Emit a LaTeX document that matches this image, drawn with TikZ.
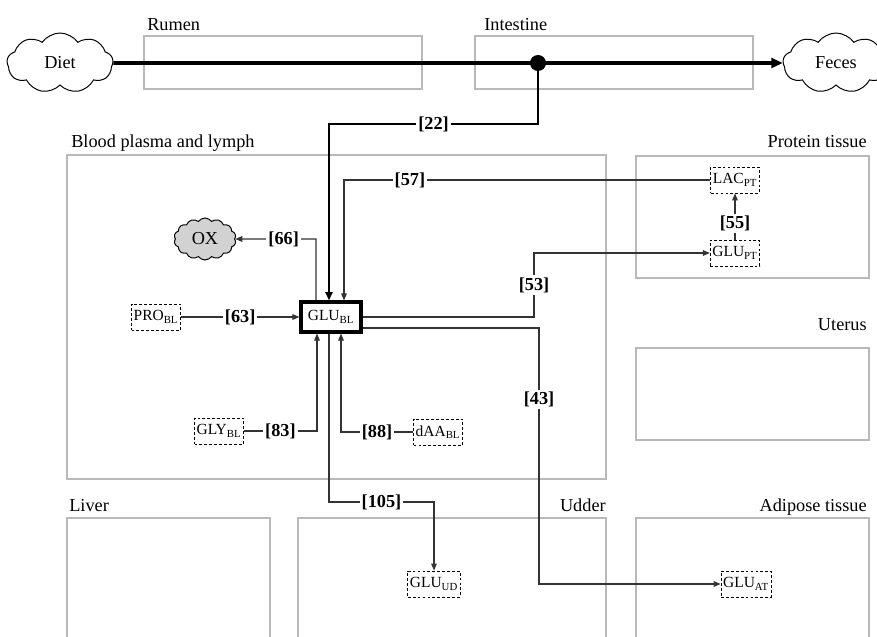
\documentclass[tikz,border=0pt]{standalone}
\usepackage{fontspec}
\setmainfont{Liberation Serif}
\usetikzlibrary{arrows.meta, shapes.symbols, positioning}

\newcommand{\pn}[2]{#1\textsubscript{#2}}

\begin{document}
\begin{tikzpicture}[x=0.025cm, y=-0.025cm, >={Triangle[length=5pt,width=4pt]},
  font=\fontsize{13}{15}\selectfont,
  organ/.style={draw=gray!55, line width=0.8pt},
  tag/.style={inner sep=0pt},
  pool/.style={draw, dash pattern=on 2pt off 1.5pt, line width=0.6pt, font=\fontsize{11}{13}\selectfont,
    inner xsep=1.5pt, inner ysep=0pt, minimum height=0.65cm},
  hub/.style={draw, line width=2.2pt, font=\fontsize{11}{13}\selectfont, minimum width=1.5cm, minimum height=0.75cm},
  rate/.style={fill=white, font=\bfseries\fontsize{13}{15}\selectfont, inner sep=1.5pt},
  flow/.style={draw=black!80, line width=0.75pt, ->},
  puff/.style={draw, cloud, cloud puffs=9, cloud puff arc=110, aspect=1.8, inner sep=0pt,
    minimum width=2.65cm, minimum height=1.5cm, line width=0.7pt}]

\useasboundingbox (0,0) rectangle (877,637);

% compartments
\draw[organ] (144,36) rectangle (422,89);
\draw[organ] (475,36) rectangle (753,89);
\draw[organ] (67,155) rectangle (606,479);
\draw[organ] (636,156) rectangle (869,278);
\draw[organ] (636,348) rectangle (869,440);
\draw[organ] (67,518) rectangle (270,660);
\draw[organ] (298,518) rectangle (606,660);
\draw[organ] (636,518) rectangle (869,660);

\node[tag, anchor=base west] (trumen) at (147,31) {Rumen};
\node[tag, anchor=base west] (tint) at (484,31) {Intestine};
\node[tag, anchor=base west] (tblood) at (71,148) {Blood plasma and lymph};
\node[tag, anchor=base east] (tprot) at (867,148) {Protein tissue};
\node[tag, anchor=base east] (tuter) at (867,330) {Uterus};
\node[tag, anchor=base west] (tliver) at (69,511) {Liver};
\node[tag, anchor=base east] (tudder) at (606,511) {Udder};
\node[tag, anchor=base east] (tadip) at (867,511) {Adipose tissue};

% pools
\node[puff] (diet) at (60,63) {Diet};
\node[puff] (feces) at (836,63) {Feces};
\node[puff, fill=gray!35, cloud puffs=14, minimum width=1.55cm, minimum height=1.05cm, aspect=1.5] (ox) at (205,239) {OX};
\node[hub] (glu) at (331,317) {\pn{GLU}{BL}};
\node[pool] (pro) at (156,317) {\pn{PRO}{BL}};
\node[pool] (gly) at (219,431) {\pn{GLY}{BL}};
\node[pool] (daa) at (438,432) {\pn{dAA}{BL}};
\node[pool] (lac) at (735,180) {\pn{LAC}{PT}};
\node[pool] (glupt) at (735,253) {\pn{GLU}{PT}};
\node[pool] (gluud) at (434,584) {\pn{GLU}{UD}};
\node[pool] (gluat) at (746,584) {\pn{GLU}{AT}};

% digestive tract
\draw[line width=2.8pt, -{Triangle[length=8pt,width=7pt]}] (diet) -- (feces);
\node[circle, fill, inner sep=0pt, minimum size=0.4cm] (split) at (538,63) {};

\coordinate (k22) at (329,124);
\coordinate (k57) at (344,181);
\coordinate (k66) at (316,239);
\coordinate (k83) at (317,432);
\coordinate (k88) at (341,432);
\coordinate (k105) at (329,502);
\coordinate (k53) at (534,253);
\coordinate (k43) at (539,328);

% fluxes
\draw[line width=2pt, -{Triangle[length=6pt,width=5pt]}] (split) |- node[rate, pos=0.75] {[22]} (k22) -- (k22 |- glu.north);
\draw[flow] (lac) -- node[rate, pos=0.82] {[57]} (lac -| k57) -- (k57 |- glu.north);
\draw[flow] (glupt) -- node[rate, pos=0.35] {[55]} (lac);
\draw[flow] (k66 |- glu.north) -- (k66) -- node[rate, pos=0.4] {[66]} (ox);
\draw[flow] (pro) -- node[rate] {[63]} (glu);
\draw[flow] (gly) -- node[rate] {[83]} (gly -| k83) -- (k83 |- glu.south);
\draw[flow] (daa) -- node[rate] {[88]} (daa -| k88) -- (k88 |- glu.south);
\draw[flow] (glu.east) -| node[rate, pos=0.75] {[53]} (k53) -- (glupt);
\draw[flow] (glu.east |- k43) -- (k43) -- node[rate, pos=0.28] {[43]} (k43 |- gluat) -- (gluat);
\draw[flow] (k105 |- glu.south) -- (k105) -- node[rate] {[105]} (k105 -| gluud) -- (gluud);

\end{tikzpicture}
\end{document}
